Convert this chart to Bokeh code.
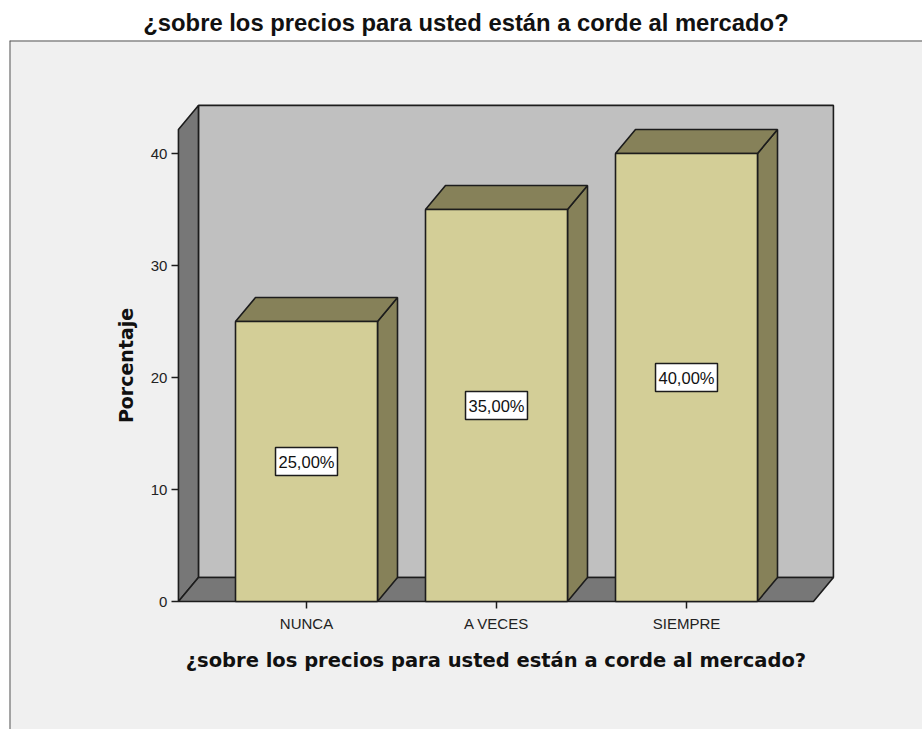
import math
from bokeh.plotting import figure
from bokeh.models import LinearAxis, FixedTicker, Range1d, Span, ColumnDataSource, Label
from bokeh.core.properties import value
from bokeh.embed import file_html
from bokeh.resources import INLINE

# ---------------- data ----------------
title_text = "¿sobre los precios para usted están a corde al mercado?"
categories = ["NUNCA", "A VECES", "SIEMPRE"]
percentages = [25.0, 35.0, 40.0]
y_ticks = [0, 10, 20, 30, 40]
y_label = "Porcentaje"
x_label = "¿sobre los precios para usted están a corde al mercado?"

# ---------------- layout constants ----------------
W, H = 922, 729
BOX_L, BOX_T = 9, 40          # light grey panel origin (px)
PX0, SX = 306, 190            # px of first category centre, px per category
PY0, SY = 601, 11.2           # px of value 0, px per percent

x0 = (BOX_L - PX0) / SX
x1 = (W - PX0) / SX
y0 = (PY0 - H) / SY
y1 = (PY0 - BOX_T) / SY

DX = 20 / SX                  # 3-D depth, x
DY = 24 / SY                  # 3-D depth, y
HW = 71 / SX                  # half bar width
PAD_L, PAD_R = 0.674, 0.668   # floor extent beyond outer categories
WALL_TOP = 42.15

idx = list(range(len(categories)))
xL = idx[0] - PAD_L
xR = idx[-1] + PAD_R

EDGE = "#1c1c1c"
EW = 1.6

p = figure(width=W, height=H, x_range=Range1d(x0, x1), y_range=Range1d(y0, y1),
           output_backend="svg", toolbar_location=None,
           x_axis_location=None, y_axis_location=None,
           min_border_left=BOX_L, min_border_top=BOX_T,
           min_border_right=0, min_border_bottom=0, title=title_text)
p.grid.visible = False
p.background_fill_color = "#F0F0F0"
p.border_fill_color = "white"
p.outline_line_color = None

p.title.text_font = "Liberation Sans"
p.title.text_font_size = "23.8px"
p.title.text_font_style = "bold"
p.title.align = "center"
p.title.text_color = "#111111"
p.title.standoff = 9
p.title.offset = 5

# ---------------- walls ----------------
p.patch([xL + DX, xR + DX, xR + DX, xL + DX], [DY, DY, WALL_TOP + DY, WALL_TOP + DY],
        fill_color="#C0C0C0", line_color=EDGE, line_width=EW)
p.patch([xL, xL, xL + DX, xL + DX], [0, WALL_TOP, WALL_TOP + DY, DY],
        fill_color="#777777", line_color=EDGE, line_width=EW)
p.patch([xL, xR, xR + DX, xL + DX], [0, 0, DY, DY],
        fill_color="#777777", line_color=EDGE, line_width=EW)

# ---------------- bars ----------------
top_xs = [[i - HW, i + HW, i + HW + DX, i - HW + DX] for i in idx]
top_ys = [[v, v, v + DY, v + DY] for v in percentages]
side_xs = [[i + HW, i + HW + DX, i + HW + DX, i + HW] for i in idx]
side_ys = [[0, DY, v + DY, v] for v in percentages]

p.patches(side_xs, side_ys, fill_color="#868159", line_color=EDGE, line_width=EW)
p.patches(top_xs, top_ys, fill_color="#868159", line_color=EDGE, line_width=EW)
p.quad(left=[i - HW for i in idx], right=[i + HW for i in idx],
       bottom=[0] * len(idx), top=percentages,
       fill_color="#D3CE97", line_color=EDGE, line_width=EW)

# ---------------- value labels ----------------
lab_src = ColumnDataSource(dict(
    x=idx,
    y=[v / 2 for v in percentages],
    text=[("%.2f" % v).replace(".", ",") + "%" for v in percentages],
))
p.text(x="x", y="y", text="text", source=lab_src,
       text_font=value("Liberation Sans"), text_font_size="16.5px",
       text_color="#111111", text_align="center", text_baseline="middle",
       background_fill_color="white", border_line_color=EDGE,
       border_line_width=1.5, padding=(3, 5))

# ---------------- axes ----------------
yax = LinearAxis(fixed_location=xL, ticker=FixedTicker(ticks=y_ticks))
xax = LinearAxis(fixed_location=0, ticker=FixedTicker(ticks=idx),
                 major_label_overrides={i: c for i, c in zip(idx, categories)})
for ax in (xax, yax):
    ax.axis_line_color = None
    ax.major_tick_line_color = EDGE
    ax.major_tick_line_width = 1.5
    ax.major_tick_in = 0
    ax.major_tick_out = 7
    ax.minor_tick_line_color = None
    ax.major_label_text_font = "Liberation Sans"
    ax.major_label_text_font_size = "15px"
    ax.major_label_text_color = "#222222"
yax.major_label_standoff = 4
xax.major_label_standoff = 6
p.add_layout(yax, "left")
p.add_layout(xax, "below")

# axis titles, centred on the plotted chart area
p.add_layout(Label(x=(125 - PX0) / SX, y=WALL_TOP / 2, text=y_label, angle=math.pi / 2,
                   text_align="center", text_baseline="middle",
                   text_font="DejaVu Sans", text_font_style="bold",
                   text_font_size="19px", text_color="#111111"))
p.add_layout(Label(x=(xL + xR) / 2, y=(PY0 - 660) / SY, text=x_label,
                   text_align="center", text_baseline="middle",
                   text_font="DejaVu Sans", text_font_style="bold",
                   text_font_size="19.5px", text_color="#111111"))

# ---------------- panel border ----------------
p.add_layout(Span(location=y1, dimension="width", line_color="#555555", line_width=2))
p.add_layout(Span(location=x0, dimension="height", line_color="#555555", line_width=2))

open("out.html", "w").write(file_html(p, INLINE))
